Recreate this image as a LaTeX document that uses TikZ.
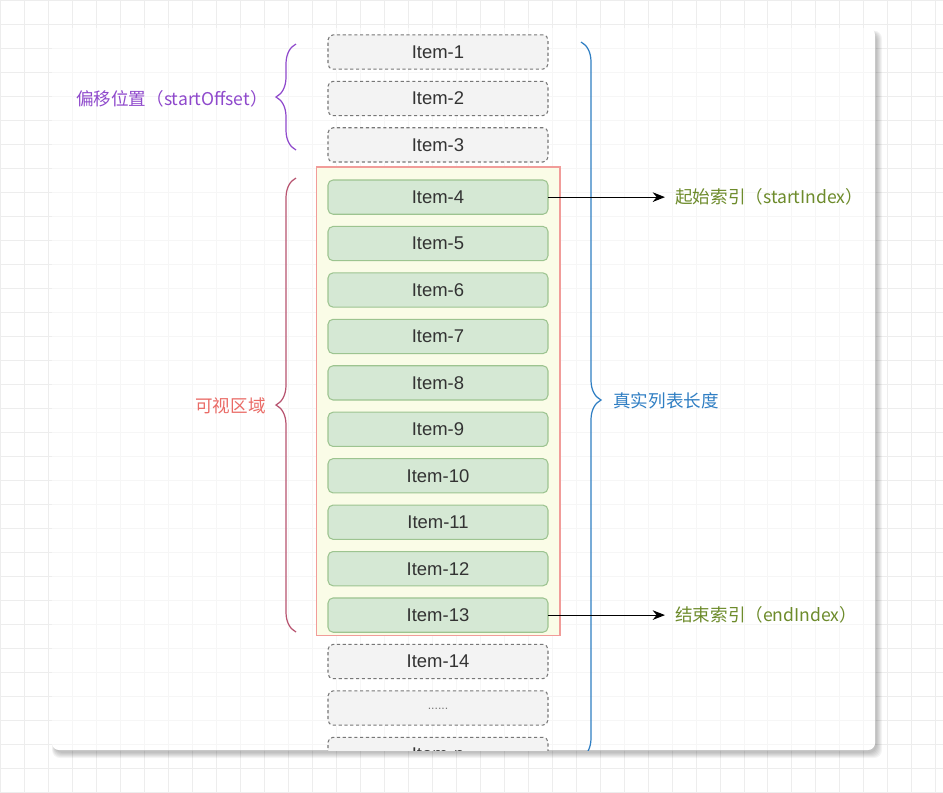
\documentclass[tikz,border=0pt]{standalone}
\usepackage{fontspec}
\setmainfont{Liberation Sans}
\newfontfamily\cjk{Noto Sans CJK SC}
\usepackage{tikz}
\usetikzlibrary{arrows.meta, positioning, fit, backgrounds, decorations.pathreplacing}

\definecolor{ghostfill}{HTML}{F3F3F3}
\definecolor{ghostline}{HTML}{777777}
\definecolor{shownfill}{HTML}{D5E8D4}
\definecolor{shownline}{HTML}{9DC490}
\definecolor{viewfill}{HTML}{FAFCE7}
\definecolor{viewline}{HTML}{F19C99}
\definecolor{itemtext}{HTML}{333333}
\definecolor{offsetcol}{HTML}{8F49CC}
\definecolor{viewbrace}{HTML}{B85470}
\definecolor{viewtext}{HTML}{EA6B66}
\definecolor{realcol}{HTML}{2F7EC3}
\definecolor{indexcol}{HTML}{6D8B2B}
\definecolor{gridcol}{HTML}{EDEDED}
\definecolor{cardgrid}{HTML}{F6F6F6}

\begin{document}
\begin{tikzpicture}[
    x=0.02cm, y=-0.02cm,
    node distance=0.244cm,
    item/.style={rectangle, rounded corners=0.1cm, minimum width=4.4cm, minimum height=0.685cm, inner sep=1pt, outer sep=0pt, text=itemtext, font=\fontsize{10.5}{12}\selectfont},
    ghost/.style={item, draw=ghostline, dash pattern=on 1.8pt off 1.5pt, line width=0.6pt, fill=ghostfill},
    shown/.style={item, draw=shownline, line width=0.6pt, fill=shownfill},
    curly/.style={decorate, decoration={brace, amplitude=0.4cm}, line width=0.7pt},
    lbl/.style={inner xsep=0.1cm, font=\cjk\fontsize{10}{12}\selectfont},
    arrow/.style={-{Stealth[length=7pt, width=5.5pt]}, line width=0.6pt}
]

\useasboundingbox (0,0) rectangle (943,792);

% Page, grid and card
\begin{pgfonlayer}{background}
\fill[white] (0,0) rectangle (943,792);
\draw[gridcol, line width=0.4pt, step=0.48cm] (0,0) grid (943,792);
\foreach \s in {1,...,6}
    \fill[black, opacity=0.045, rounded corners=0.16cm] (55-0.5*\s,33-0.4*\s) rectangle (876+\s,752+\s);
\fill[white, rounded corners=0.14cm] (52,28) rectangle (875,750);
\begin{scope}
\clip[rounded corners=0.14cm] (52,28) rectangle (875,750);
\draw[cardgrid, line width=0.4pt, step=0.48cm] (0,0) grid (943,792);
\end{scope}
\end{pgfonlayer}

\begin{scope}
\clip (52,28) rectangle (875,750);

% List items
\node[ghost] (item1) at (438,52) {Item-1};
\node[ghost, below=of item1] (item2) {Item-2};
\node[ghost, below=of item2] (item3) {Item-3};
\node[shown, below=0.36cm of item3] (item4) {Item-4};
\node[shown, below=of item4] (item5) {Item-5};
\node[shown, below=of item5] (item6) {Item-6};
\node[shown, below=of item6] (item7) {Item-7};
\node[shown, below=of item7] (item8) {Item-8};
\node[shown, below=of item8] (item9) {Item-9};
\node[shown, below=of item9] (item10) {Item-10};
\node[shown, below=of item10] (item11) {Item-11};
\node[shown, below=of item11] (item12) {Item-12};
\node[shown, below=of item12] (item13) {Item-13};
\node[ghost, below=of item13] (item14) {Item-14};
\node[ghost, below=of item14, font=\fontsize{7}{8}\selectfont, text=ghostline] (more) {\raisebox{-0.08cm}{......}};
\node[ghost, below=of more] (itemn) {Item-n};

% Visible area box
\coordinate (viewcap) at ([yshift=0.2cm]item4.north);
\begin{pgfonlayer}{background}
\node[draw=viewline, fill=viewfill, line width=0.6pt, fit=(item4) (item13) (viewcap), inner xsep=0.24cm, inner ysep=0.06cm] (viewport) {};
\end{pgfonlayer}

% Braces
\coordinate (offtop) at (296,44);
\coordinate (offbot) at (296,150);
\coordinate (viewtop) at (296,178);
\coordinate (viewbot) at (296,632);
\coordinate (realtop) at (581,42);
\coordinate (realbot) at (581,758);
\draw[curly, offsetcol] (offbot) -- (offtop);
\draw[curly, viewbrace] (viewbot) -- (viewtop);
\draw[curly, realcol] (realtop) -- (realbot);
\end{scope}

% Labels
\node[lbl, anchor=east, text=offsetcol] (offsetlbl) at (273,99) {偏移位置（startOffset）};
\node[lbl, anchor=east, text=viewtext] (viewlbl) at (271,406) {可视区域};
\node[lbl, anchor=west, text=realcol] (reallbl) at (608,401) {真实列表长度};
\node[lbl, right=2.34cm of item4, inner xsep=0.2cm, text=indexcol] (startlbl) {起始索引（startIndex）};
\node[lbl, right=2.34cm of item13, inner xsep=0.2cm, text=indexcol] (endlbl) {结束索引（endIndex）};

% Arrows
\draw[arrow] (item4) -- (startlbl);
\draw[arrow] (item13) -- (endlbl);

\end{tikzpicture}
\end{document}
